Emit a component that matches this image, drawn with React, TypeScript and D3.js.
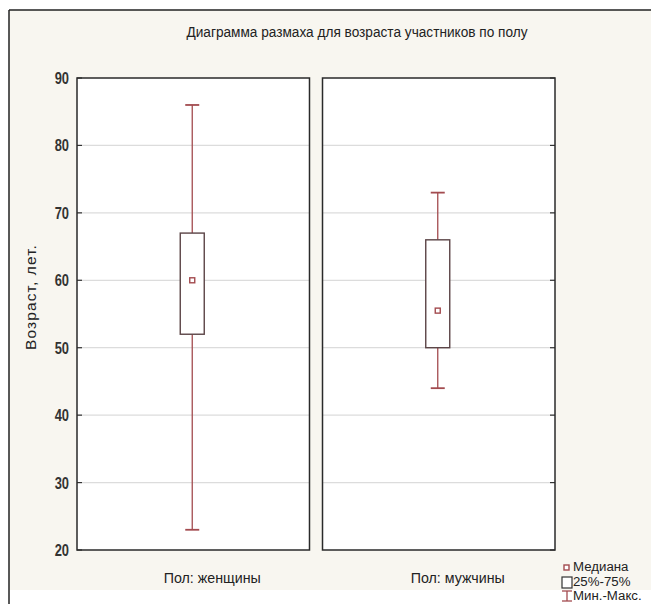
import React, { useEffect, useRef } from 'react';
import * as d3 from 'd3';

// данные диаграммы размаха
const categories = ['Пол: женщины', 'Пол: мужчины'];
const minValues = [23, 44];
const q1Values = [52, 50];
const medianValues = [60, 55.5];
const q3Values = [67, 66];
const maxValues = [86, 73];
const yTicks = [20, 30, 40, 50, 60, 70, 80, 90];
const legendLabels = ['Медиана', '25%-75%', 'Мин.-Макс.'];

const title = 'Диаграмма размаха для возраста участников по полу';
const yLabel = 'Возраст, лет.';

const W = 651;
const H = 604;
const FONT = "'Liberation Sans', Arial, sans-serif";
const WHISKER = '#a34b4f';
const BOX = '#5b4446';

function App() {
  const svgRef = useRef<SVGSVGElement>(null);

  useEffect(() => {
    const svg = d3.select(svgRef.current);
    svg.selectAll('*').remove();

    const plot = { left: 77, right: 555, top: 78, bottom: 550 };

    // узкий текст (сжатие по горизонтали)
    const narrowText = (parent: any, x: number, y: number, txt: string, size: number, sx: number, anchor = 'start') =>
      parent.append('text')
        .attr('transform', `translate(${x},${y}) scale(${sx},1)`)
        .attr('text-anchor', anchor)
        .attr('font-family', FONT).attr('font-size', size).attr('fill', '#222')
        .text(txt);

    // фон и рамка
    svg.append('rect').attr('x', 0).attr('y', 0).attr('width', W).attr('height', H).attr('fill', '#ffffff');
    svg.append('rect').attr('x', 9).attr('y', 10).attr('width', W - 9).attr('height', 580).attr('fill', '#f8f6f0');
    svg.append('line').attr('x1', 9).attr('x2', W).attr('y1', 10).attr('y2', 10).attr('stroke', '#222').attr('stroke-width', 1.5);
    svg.append('line').attr('x1', 9).attr('x2', 9).attr('y1', 10).attr('y2', H).attr('stroke', '#222').attr('stroke-width', 1.5);

    const x = d3.scaleBand<string>()
      .domain(categories)
      .range([plot.left, plot.right])
      .paddingInner(0.053)
      .paddingOuter(0);

    const y = d3.scaleLinear()
      .domain([20, 90])
      .range([plot.bottom, plot.top]);

    const labelShift = [19, 19];

    // панели
    categories.forEach((c, i) => {
      const x0 = x(c)!;
      const bw = x.bandwidth();
      const g = svg.append('g');
      g.append('rect')
        .attr('x', x0).attr('y', plot.top)
        .attr('width', bw).attr('height', plot.bottom - plot.top)
        .attr('fill', '#ffffff');
      g.selectAll('.grid')
        .data(yTicks.filter(t => t > 20 && t < 90))
        .enter()
        .append('line')
        .attr('x1', x0).attr('x2', x0 + bw)
        .attr('y1', d => y(d)).attr('y2', d => y(d))
        .attr('stroke', '#dcdcdc').attr('stroke-width', 1.2);
      // засечки
      const tx = i === 0 ? x0 : x0 + bw;
      const dir = i === 0 ? 1 : -1;
      g.selectAll('.tick')
        .data(yTicks)
        .enter()
        .append('line')
        .attr('x1', tx).attr('x2', tx + dir * 5)
        .attr('y1', d => y(d)).attr('y2', d => y(d))
        .attr('stroke', '#333').attr('stroke-width', 1.2);
      g.append('rect')
        .attr('x', x0).attr('y', plot.top)
        .attr('width', bw).attr('height', plot.bottom - plot.top)
        .attr('fill', 'none').attr('stroke', '#2a2a2a').attr('stroke-width', 1.5);

      // категория
      narrowText(svg, x0 + bw / 2 + labelShift[i], 583, c, 15, 0.95, 'middle');
    });

    // боксы
    categories.forEach((c, i) => {
      const cx = x(c)! + x.bandwidth() / 2 - 1;
      const boxW = 24;
      const capW = 14;
      svg.append('line')
        .attr('x1', cx).attr('x2', cx)
        .attr('y1', y(maxValues[i])).attr('y2', y(q3Values[i]))
        .attr('stroke', WHISKER).attr('stroke-width', 1.3);
      svg.append('line')
        .attr('x1', cx).attr('x2', cx)
        .attr('y1', y(q1Values[i])).attr('y2', y(minValues[i]))
        .attr('stroke', WHISKER).attr('stroke-width', 1.3);
      [maxValues[i], minValues[i]].forEach(v => {
        svg.append('line')
          .attr('x1', cx - capW / 2).attr('x2', cx + capW / 2)
          .attr('y1', y(v)).attr('y2', y(v))
          .attr('stroke', WHISKER).attr('stroke-width', 1.8);
      });
      svg.append('rect')
        .attr('x', cx - boxW / 2).attr('y', y(q3Values[i]))
        .attr('width', boxW).attr('height', y(q1Values[i]) - y(q3Values[i]))
        .attr('fill', '#ffffff').attr('stroke', BOX).attr('stroke-width', 1.4);
      svg.append('rect')
        .attr('x', cx - 2.5).attr('y', y(medianValues[i]) - 2.5)
        .attr('width', 5).attr('height', 5)
        .attr('fill', '#ffffff').attr('stroke', WHISKER).attr('stroke-width', 1.4);
    });

    // ось Y
    yTicks.forEach(t => {
      narrowText(svg, 69, y(t) + 6, String(t), 17, 0.76, 'end')
        .attr('font-weight', 'bold').attr('fill', '#333');
    });

    svg.append('text')
      .attr('transform', `translate(36,${(plot.top + plot.bottom) / 2 - 17}) rotate(-90)`)
      .attr('text-anchor', 'middle')
      .attr('font-family', FONT).attr('font-size', 15.5).attr('letter-spacing', 1.1).attr('fill', '#222')
      .text(yLabel);

    // заголовок
    narrowText(svg, 357, 37, title, 15, 0.91, 'middle');

    // легенда
    const lg = svg.append('g').attr('transform', 'translate(562,0)');
    lg.append('rect').attr('x', 2).attr('y', 565).attr('width', 5).attr('height', 5)
      .attr('fill', '#fff').attr('stroke', WHISKER).attr('stroke-width', 1.4);
    lg.append('rect').attr('x', 0).attr('y', 577).attr('width', 10).attr('height', 11)
      .attr('fill', '#fff').attr('stroke', '#333').attr('stroke-width', 1.2);
    lg.append('line').attr('x1', 5).attr('x2', 5).attr('y1', 591).attr('y2', 601)
      .attr('stroke', WHISKER).attr('stroke-width', 1.3);
    lg.append('line').attr('x1', 0).attr('x2', 10).attr('y1', 591).attr('y2', 591)
      .attr('stroke', WHISKER).attr('stroke-width', 1.3);
    lg.append('line').attr('x1', 0).attr('x2', 10).attr('y1', 601).attr('y2', 601)
      .attr('stroke', WHISKER).attr('stroke-width', 1.3);
    legendLabels.forEach((d, i) => {
      narrowText(lg, 11, 571 + i * 14.5, d, 12.5, 1.06);
    });
  }, []);

  return (
    <svg ref={svgRef} width={W} height={H} style={{ position: 'absolute', left: 0, top: 0 }} />
  );
}

export default App;
